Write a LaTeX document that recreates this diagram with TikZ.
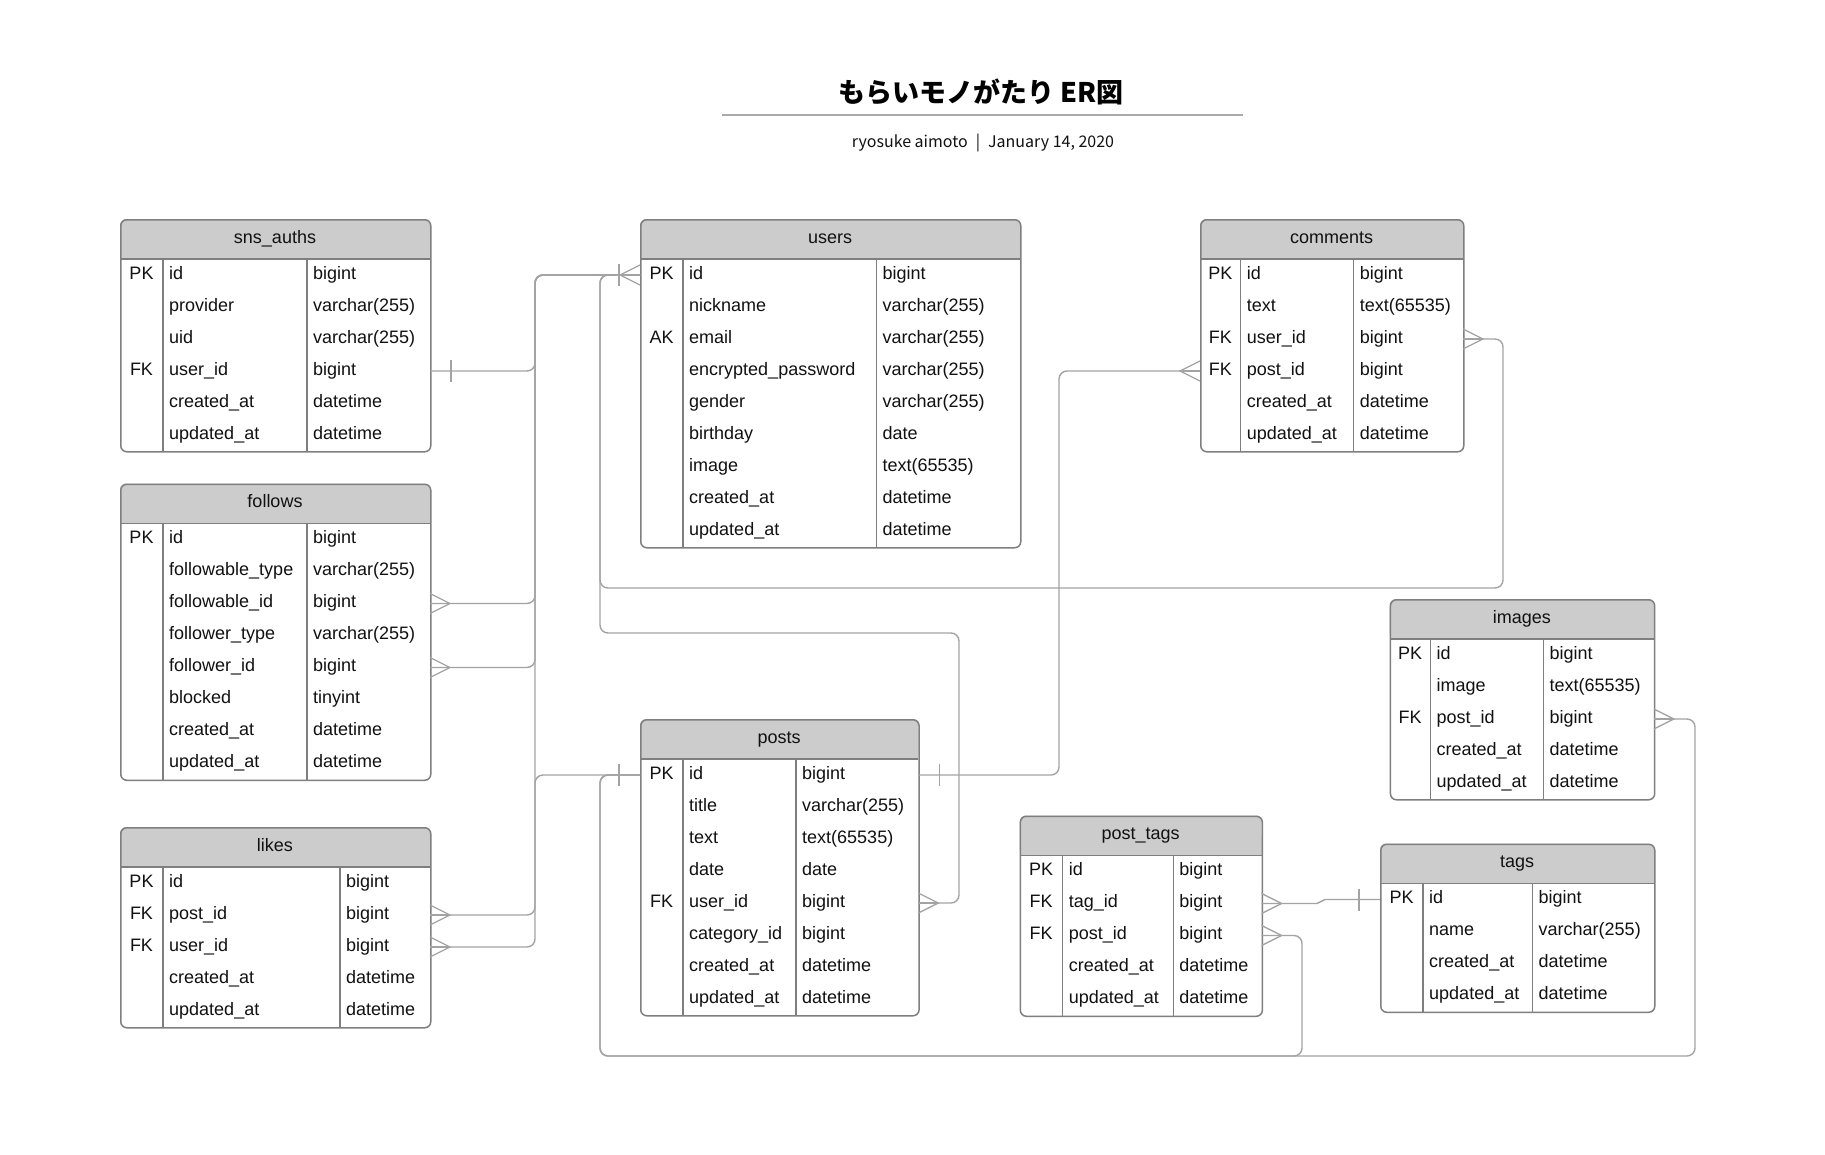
\documentclass[tikz,border=0pt]{standalone}
\usepackage{fontspec}
\setmainfont{Liberation Sans}
\newfontfamily\cjkfont{Noto Sans CJK JP}
\definecolor{bordercol}{HTML}{7F7F7F}
\definecolor{hdrcol}{HTML}{CCCCCC}
\definecolor{conncol}{HTML}{A3A3A3}
\definecolor{txtcol}{HTML}{111111}
\definecolor{rulecol}{HTML}{AAAAAA}
\tikzset{
  conn/.style={draw=conncol, line width=1.4pt, rounded corners=8pt},
  endmark/.style={draw=conncol, line width=1.3pt},
  tblborder/.style={draw=bordercol, line width=1.5pt, rounded corners=6pt, inner sep=0pt},
  gridline/.style={draw=bordercol, line width=1.2pt},
  celltext/.style={inner sep=0pt, font=\fontsize{18}{22}\selectfont, text=txtcol},
}
% #1 name, #2 x, #3 y, #4 width, #5 key col width, #6 type col offset, #7 rows, #8 title, #9 rows list
\newcommand\ertable[9]{%
  \pgfmathsetmacro\tblH{40+32*#7}%
  \fill[white, rounded corners=6pt] (#2,#3) rectangle ++(#4,\tblH);
  \fill[hdrcol, rounded corners=6pt] (#2,#3) rectangle ++(#4,40);
  \fill[hdrcol] (#2,#3+20) rectangle ++(#4,20);
  \draw[gridline] (#2,#3+40) -- ++(#4,0);
  \draw[gridline] (#2+#5,#3+40) -- ++(0,32*#7);
  \draw[gridline] (#2+#6,#3+40) -- ++(0,32*#7);
  \node[tblborder, minimum width=#4*1pt, minimum height=\tblH*1pt, anchor=north west] (#1) at (#2,#3) {};
  \node[celltext, anchor=base] (#1-title) at (#2+#4/2, #3+20+4.2) {#8};
  \foreach \colk/\colf/\colt [count=\i] in {#9} {
    \pgfmathsetmacro\ry{#3+40+32*\i-16}
    \node[celltext, anchor=base] (#1-k\i) at (#2+#5/2, \ry+4.3) {\colk};
    \node[celltext, anchor=base west] (#1-f\i) at (#2+#5+6, \ry+4.3) {\colf};
    \node[celltext, anchor=base west] (#1-t\i) at (#2+#6+6, \ry+4.3) {\colt};
    \coordinate (#1-\i-w) at (#2, \ry);
    \coordinate (#1-\i-e) at (#2+#4, \ry);
  }
}
\newcommand\crowR[1]{\draw[endmark] ([yshift=10pt]#1) -- ([xshift=20pt]#1) -- ([yshift=-10pt]#1); \draw[endmark] (#1) -- ([xshift=20pt]#1);}
\newcommand\crowL[1]{\draw[endmark] ([yshift=10pt]#1) -- ([xshift=-20pt]#1) -- ([yshift=-10pt]#1); \draw[endmark] (#1) -- ([xshift=-20pt]#1);}
\newcommand\barR[1]{\draw[endmark] ([xshift=21pt,yshift=11pt]#1) -- ([xshift=21pt,yshift=-11pt]#1);}
\newcommand\barL[1]{\draw[endmark] ([xshift=-21pt,yshift=11pt]#1) -- ([xshift=-21pt,yshift=-11pt]#1);}
\begin{document}
\begin{tikzpicture}[x=1pt, y=-1pt]
\fill[white] (0,0) rectangle (1825,1154);
\useasboundingbox (0,0) rectangle (1825,1154);

% title
\node[inner sep=0pt, font=\cjkfont\bfseries\fontsize{27}{32}\selectfont, text=black] (title) at (981,92) {もらいモノがたり ER図};
\coordinate (ruleL) at (722,115);
\coordinate (ruleR) at (1243,115);
\draw[rulecol, line width=2pt] (ruleL) -- (ruleR);
\node[inner sep=0pt, font=\cjkfont\fontsize{16}{20}\selectfont, text=txtcol] (subtitle) at (983,143.5) {ryosuke aimoto\hspace{8pt}|\hspace{8pt}January 14, 2020};

% bus coordinates
\coordinate (busA) at (535,0);
\coordinate (busB) at (600,0);
\coordinate (busC) at (959,0);
\coordinate (busD) at (1059,0);
\coordinate (busE) at (1503,0);
\coordinate (busF) at (1695,0);
\coordinate (busG) at (1302,0);
\coordinate (jog) at (1321,0);
\coordinate (rowCm) at (0,588);
\coordinate (rowPu) at (0,633);
\coordinate (rowBot) at (0,1056);

% tables
\ertable{snsauths}{120}{219}{310}{43}{187}{6}{sns\_auths}{PK/id/bigint, /provider/varchar(255), /uid/varchar(255), FK/user\_id/bigint, /created\_at/datetime, /updated\_at/datetime}
\ertable{users}{640}{219}{380}{43}{236.4}{9}{users}{PK/id/bigint, /nickname/varchar(255), AK/email/varchar(255), /encrypted\_password/varchar(255), /gender/varchar(255), /birthday/date, /image/text(65535), /created\_at/datetime, /updated\_at/datetime}
\ertable{comments}{1200}{219}{263}{40.7}{153.6}{6}{comments}{PK/id/bigint, /text/text(65535), FK/user\_id/bigint, FK/post\_id/bigint, /created\_at/datetime, /updated\_at/datetime}
\ertable{follows}{120}{483.5}{310}{43}{187}{8}{follows}{PK/id/bigint, /followable\_type/varchar(255), /followable\_id/bigint, /follower\_type/varchar(255), /follower\_id/bigint, /blocked/tinyint, /created\_at/datetime, /updated\_at/datetime}
\ertable{likes}{120}{827}{310}{43}{220}{5}{likes}{PK/id/bigint, FK/post\_id/bigint, FK/user\_id/bigint, /created\_at/datetime, /updated\_at/datetime}
\ertable{posts}{640}{719}{278.3}{43}{156}{8}{posts}{PK/id/bigint, /title/varchar(255), /text/text(65535), /date/date, FK/user\_id/bigint, /category\_id/bigint, /created\_at/datetime, /updated\_at/datetime}
\ertable{posttags}{1019.6}{815.5}{242}{43}{153.6}{5}{post\_tags}{PK/id/bigint, FK/tag\_id/bigint, FK/post\_id/bigint, /created\_at/datetime, /updated\_at/datetime}
\ertable{images}{1389.7}{599}{264.2}{40.7}{153.6}{5}{images}{PK/id/bigint, /image/text(65535), FK/post\_id/bigint, /created\_at/datetime, /updated\_at/datetime}
\ertable{tags}{1380}{843.5}{274}{43}{152.5}{4}{tags}{PK/id/bigint, /name/varchar(255), /created\_at/datetime, /updated\_at/datetime}

% connectors
\draw[conn] (snsauths-4-e) -| (busA |- users-1-w) -- (users-1-w);
\draw[conn] (follows-3-e) -| (busA |- users-1-w) -- (users-1-w);
\draw[conn] (follows-5-e) -| (busA |- users-1-w) -- (users-1-w);
\draw[conn] (likes-3-e) -| (busA |- users-1-w) -- (users-1-w);
\draw[conn] (likes-2-e) -| (busA |- posts-1-w) -- (posts-1-w);
\draw[conn] (users-1-w) -- (busB |- users-1-w) -- (busB |- rowCm) -- (busE |- rowCm) -- (busE |- comments-3-e) -- (comments-3-e);
\draw[conn] (users-1-w) -- (busB |- users-1-w) -- (busB |- rowPu) -- (busC |- rowPu) -- (busC |- posts-5-e) -- (posts-5-e);
\draw[conn] (posts-1-e) -- (busD |- posts-1-e) -- (busD |- comments-4-w) -- (comments-4-w);
\draw[conn] (posts-1-w) -- (busB |- posts-1-w) -- (busB |- rowBot) -- (busF |- rowBot) -- (busF |- images-3-e) -- (images-3-e);
\draw[conn] (posts-1-w) -- (busB |- posts-1-w) -- (busB |- rowBot) -- (busG |- rowBot) -- (busG |- posttags-3-e) -- (posttags-3-e);
\draw[conn, rounded corners=0pt] (posttags-2-e) -- ([xshift=-4pt]jog |- posttags-2-e) -- ([xshift=4pt]jog |- tags-1-w) -- (tags-1-w);

% end marks
\barR{snsauths-4-e}
\barL{users-1-w}
\crowL{users-1-w}
\crowR{follows-3-e}
\crowR{follows-5-e}
\crowR{likes-2-e}
\crowR{likes-3-e}
\crowR{comments-3-e}
\crowL{comments-4-w}
\crowR{posts-5-e}
\barR{posts-1-e}
\barL{posts-1-w}
\crowR{images-3-e}
\crowR{posttags-2-e}
\crowR{posttags-3-e}
\barL{tags-1-w}
\end{tikzpicture}
\end{document}
